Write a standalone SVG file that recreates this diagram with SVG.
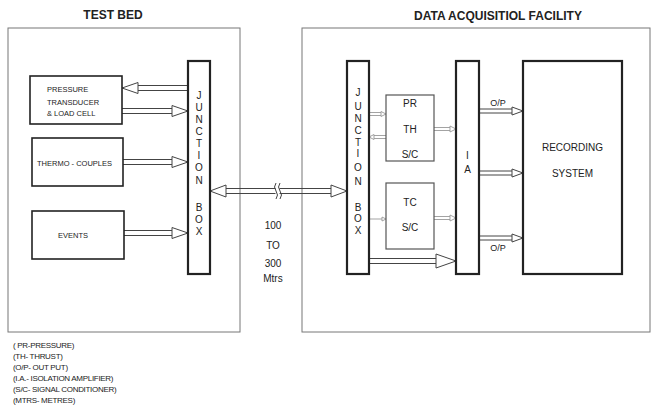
<svg xmlns="http://www.w3.org/2000/svg" width="660" height="410" viewBox="0 0 660 410">
<style>
text{font-family:"Liberation Sans",Arial,sans-serif;fill:#222}
.hd{font-size:12px;font-weight:bold;text-anchor:middle}
.sm{font-size:7.5px}
.lb{font-size:10px;text-anchor:middle}
.op{font-size:9px;text-anchor:middle}
.lg{font-size:8px;letter-spacing:-0.3px}
.outer{fill:none;stroke:#777;stroke-width:1}
.box{fill:#fff;stroke:#222;stroke-width:1.6}
.bar{fill:#fff;stroke:#222;stroke-width:2.2}
.sc{fill:#fff;stroke:#555;stroke-width:1.2}
.sh{fill:none;stroke:#444;stroke-width:1}
.hdw{fill:#fff;stroke:#444;stroke-width:1}
.gsh{fill:none;stroke:#999;stroke-width:0.9}
.ghd{fill:#fff;stroke:#999;stroke-width:0.9}
</style>
<text class="hd" x="113" y="19">TEST BED</text>
<text class="hd" x="498" y="20">DATA ACQUISITIOL FACILITY</text>
<rect class="outer" x="8" y="28" width="232" height="304"/>
<rect class="outer" x="302" y="28" width="348" height="304"/>

<g id="connectors">
  <!-- pressure top (left) -->
  <path class="sh" d="M188 85.5H138M188 90.5H138"/>
  <polygon class="hdw" points="138,82.5 122,88 138,93.5"/>
  <!-- pressure bottom (right) -->
  <path class="sh" d="M122 108.5H172M122 113.5H172"/>
  <polygon class="hdw" points="172,105.5 188,111 172,116.5"/>
  <!-- thermo -->
  <path class="sh" d="M123 159.5H172M123 164.5H172"/>
  <polygon class="hdw" points="172,156.5 188,162 172,167.5"/>
  <!-- events -->
  <path class="sh" d="M124 230.5H172M124 235.5H172"/>
  <polygon class="hdw" points="172,227.5 188,233 172,238.5"/>
  <!-- bidirectional link -->
  <path class="sh" d="M226 188.5H331M226 193.5H331"/>
  <polygon class="hdw" points="226,185 210,191 226,197"/>
  <polygon class="hdw" points="331,185 347,191 331,197"/>
  <rect x="275.5" y="186" width="4" height="10" fill="#fff"/>
  <path class="sh" d="M276 183q-3 4 0 8q3 4 0 8M280 183q-3 4 0 8q3 4 0 8"/>
  <!-- PR S/C small arrows -->
  <path class="gsh" d="M369 112.5H381M369 115.5H381"/>
  <polygon class="ghd" points="381,111.5 386,114 381,116.5"/>
  <path class="gsh" d="M386 135.5H374M386 138.5H374"/>
  <polygon class="ghd" points="374,134.5 369,137 374,139.5"/>
  <path class="gsh" d="M434 127.5H450M434 130.5H450"/>
  <polygon class="ghd" points="450,126 456,129 450,132"/>
  <!-- TC S/C small arrows -->
  <path class="gsh" d="M369 219H382"/>
  <polygon class="ghd" points="382,217 386,219 382,221"/>
  <path class="gsh" d="M434 216.5H450M434 219.5H450"/>
  <polygon class="ghd" points="450,215 456,218 450,221"/>
  <!-- junction to IA -->
  <path class="sh" d="M369 258.5H436M369 263.5H436"/>
  <polygon class="hdw" points="436,254 456,261 436,268"/>
  <!-- IA to recording -->
  <path class="sh" d="M479 109H512M479 113H512"/>
  <polygon class="hdw" points="512,107 523,111 512,115"/>
  <path class="sh" d="M479 171H512M479 175H512"/>
  <polygon class="hdw" points="512,169 523,173 512,177"/>
  <path class="sh" d="M479 236H512M479 240H512"/>
  <polygon class="hdw" points="512,234 523,238 512,242"/>
</g>

<g id="pressure">
  <rect class="box" x="30" y="76" width="92" height="48"/>
  <text class="sm" x="47" y="92">PRESSURE</text>
  <text class="sm" x="47" y="104.5">TRANSDUCER</text>
  <text class="sm" x="47" y="116">&amp; LOAD CELL</text>
</g>
<g id="thermo">
  <rect class="box" x="32" y="138" width="91" height="48"/>
  <text class="sm" x="37" y="165.5">THERMO - COUPLES</text>
</g>
<g id="events">
  <rect class="box" x="32" y="211" width="92" height="48"/>
  <text class="sm" x="58" y="238">EVENTS</text>
</g>
<g id="junction-left">
  <rect class="bar" x="188" y="61" width="22" height="213"/>
  <text class="lb" x="199" y="99">J</text>
  <text class="lb" x="199" y="111">U</text>
  <text class="lb" x="199" y="123">N</text>
  <text class="lb" x="199" y="135">C</text>
  <text class="lb" x="199" y="147">T</text>
  <text class="lb" x="199" y="159">I</text>
  <text class="lb" x="199" y="171">O</text>
  <text class="lb" x="199" y="184">N</text>
  <text class="lb" x="199" y="211">B</text>
  <text class="lb" x="199" y="223">O</text>
  <text class="lb" x="199" y="235">X</text>
</g>
<g id="distance">
  <text class="lb" x="273" y="228.5">100</text>
  <text class="lb" x="273" y="248.5">TO</text>
  <text class="lb" x="273" y="266.5">300</text>
  <text class="lb" x="273" y="281.5">Mtrs</text>
</g>
<g id="junction-right">
  <rect class="bar" x="347" y="61" width="22" height="213"/>
  <text class="lb" x="358" y="96">J</text>
  <text class="lb" x="358" y="110">U</text>
  <text class="lb" x="358" y="122">N</text>
  <text class="lb" x="358" y="134">C</text>
  <text class="lb" x="358" y="146">T</text>
  <text class="lb" x="358" y="157">I</text>
  <text class="lb" x="358" y="171">O</text>
  <text class="lb" x="358" y="185">N</text>
  <text class="lb" x="358" y="211">B</text>
  <text class="lb" x="358" y="222">O</text>
  <text class="lb" x="358" y="234">X</text>
</g>
<g id="pr-th-sc">
  <rect class="sc" x="386" y="95" width="48" height="66"/>
  <text class="lb" x="410" y="107">PR</text>
  <text class="lb" x="410" y="133">TH</text>
  <text class="lb" x="410" y="158">S/C</text>
</g>
<g id="tc-sc">
  <rect class="sc" x="386" y="183" width="48" height="66"/>
  <text class="lb" x="410" y="206">TC</text>
  <text class="lb" x="410" y="231">S/C</text>
</g>
<g id="ia">
  <rect class="bar" x="456" y="61" width="23" height="213"/>
  <text class="lb" x="467.5" y="159">I</text>
  <text class="lb" x="467.5" y="173">A</text>
</g>
<g id="recording">
  <rect class="bar" x="523" y="61" width="99" height="213"/>
  <text class="lb" x="572.5" y="151">RECORDING</text>
  <text class="lb" x="572.5" y="177">SYSTEM</text>
</g>
<text class="op" x="498" y="106">O/P</text>
<text class="op" x="498" y="251">O/P</text>

<g id="legend">
  <text class="lg" x="13" y="348">( PR-PRESSURE)</text>
  <text class="lg" x="13" y="359">(TH- THRUST)</text>
  <text class="lg" x="13" y="370">(O/P- OUT PUT)</text>
  <text class="lg" x="13" y="381">(I.A.- ISOLATION AMPLIFIER)</text>
  <text class="lg" x="13" y="392">(S/C- SIGNAL CONDITIONER)</text>
  <text class="lg" x="13" y="403">(MTRS- METRES)</text>
</g>
</svg>
